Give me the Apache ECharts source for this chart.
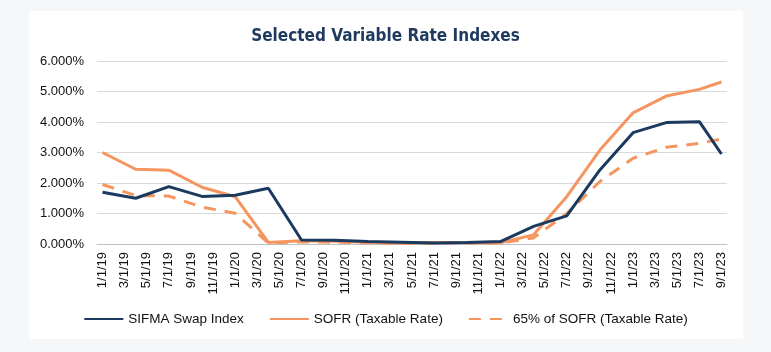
<!DOCTYPE html>
<html>
<head>
<meta charset="utf-8">
<title>Selected Variable Rate Indexes</title>
<script src="https://cdn.jsdelivr.net/npm/echarts@6.0.0/dist/echarts.min.js"></script>
<style>
    html, body { margin: 0; padding: 0; background: #f6f7f9; }
    #card  { position: absolute; left: 29px; top: 11px; width: 714px; height: 328px; background: #fff; }
    #chart { position: absolute; left: 0; top: 0; width: 771px; height: 352px; }
</style>
</head>
<body>
<div id="card"></div>
<div id="chart"></div>
<script>
/* ---------- 数据 ---------- */
// 月度类目（1/1/19 ~ 9/1/23），横轴按月，每两个月一个标签
const months = [];
for (let y = 2019; y <= 2023; y++) {
    for (let m = 1; m <= 12; m++) {
        if (y === 2023 && m > 9) break;
        months.push(`${m}/1/${String(y).slice(2)}`);
    }
}

// 观测日期（季度）
const obsDates = ["1/1/19", "4/1/19", "7/1/19", "10/1/19",
                  "1/1/20", "4/1/20", "7/1/20", "10/1/20",
                  "1/1/21", "4/1/21", "7/1/21", "10/1/21",
                  "1/1/22", "4/1/22", "7/1/22", "10/1/22",
                  "1/1/23", "4/1/23", "7/1/23", "9/1/23"];

const sifma  = [1.70, 1.50, 1.88, 1.56, 1.60, 1.83, 0.13, 0.12, 0.08, 0.06,
                0.03, 0.05, 0.08, 0.58, 0.92, 2.43, 3.65, 3.98, 4.01, 2.95];
const sofr   = [3.00, 2.45, 2.42, 1.86, 1.55, 0.05, 0.11, 0.09, 0.06, 0.03,
                0.05, 0.05, 0.04, 0.30, 1.55, 3.08, 4.30, 4.85, 5.07, 5.31];
const sofr65 = [1.95, 1.59, 1.57, 1.21, 1.01, 0.03, 0.07, 0.06, 0.04, 0.02,
                0.03, 0.03, 0.03, 0.20, 1.00, 2.05, 2.81, 3.17, 3.30, 3.44];

const seriesNames = ["SIFMA Swap Index", "SOFR (Taxable Rate)", "65% of SOFR (Taxable Rate)"];

/* ---------- 工具 ---------- */
// 把季度数据放到月度类目上，没有观测的月份留空
function toMonthly(vals) {
    return months.map((m) => {
        const i = obsDates.indexOf(m);
        return i >= 0 ? vals[i] : null;
    });
}

const NAVY   = "#1b3a5f";
const ORANGE = "#f5955f";
const FONT   = '"Liberation Sans", Arial, sans-serif';

/* ---------- 图表 ---------- */
const chart = echarts.init(document.getElementById("chart"));

chart.setOption({
    backgroundColor: "transparent",
    animation: false,
    title: {
        text: "Selected Variable Rate Indexes",
        left: "center",
        top: 23,
        textStyle: {
            fontFamily: '"Liberation Sans Narrow", "Arial Narrow", "DejaVu Sans Condensed", sans-serif',
            fontSize: 17,
            fontWeight: "bold",
            color: "#1f3a5f",
        },
    },
    legend: {
        bottom: 21,
        left: "center",
        itemWidth: 39,
        itemHeight: 12,
        itemGap: 25,
        itemStyle: { opacity: 0 },        // 只保留线段，不画圆点
        textStyle: { fontFamily: FONT, fontSize: 13.5, color: "#111" },
        data: seriesNames,
    },
    grid: { left: 97, right: 44, top: 61, bottom: 108 },
    xAxis: {
        type: "category",
        data: months,
        boundaryGap: true,
        axisLine: { lineStyle: { color: "#bfbfbf", width: 1 } },
        axisTick: { interval: 1, length: 5, lineStyle: { color: "#bfbfbf" } },
        axisLabel: {
            interval: 1,
            rotate: 90,
            margin: 8,
            fontFamily: FONT,
            fontSize: 13,
            color: "#111",
        },
    },
    yAxis: {
        type: "value",
        min: 0,
        max: 6,
        interval: 1,
        axisLine: { show: false },
        axisTick: { show: false },
        splitLine: { lineStyle: { color: "#d9d9d9", width: 1 } },
        axisLabel: {
            margin: 13,
            fontFamily: FONT,
            fontSize: 13,
            color: "#111",
            formatter: (v) => v.toFixed(3) + "%",
        },
    },
    series: [
        {
            name: seriesNames[0],
            type: "line",
            data: toMonthly(sifma),
            connectNulls: true,
            symbol: "none",
            z: 3,
            lineStyle: { color: NAVY, width: 3 },
            itemStyle: { color: NAVY },
        },
        {
            name: seriesNames[1],
            type: "line",
            data: toMonthly(sofr),
            connectNulls: true,
            symbol: "none",
            z: 2,
            lineStyle: { color: ORANGE, width: 3 },
            itemStyle: { color: ORANGE },
        },
        {
            name: seriesNames[2],
            type: "line",
            data: toMonthly(sofr65),
            connectNulls: true,
            symbol: "none",
            z: 2,
            lineStyle: { color: ORANGE, width: 3, type: [12, 9] },
            itemStyle: { color: ORANGE },
        },
    ],
});
</script>
</body>
</html>
